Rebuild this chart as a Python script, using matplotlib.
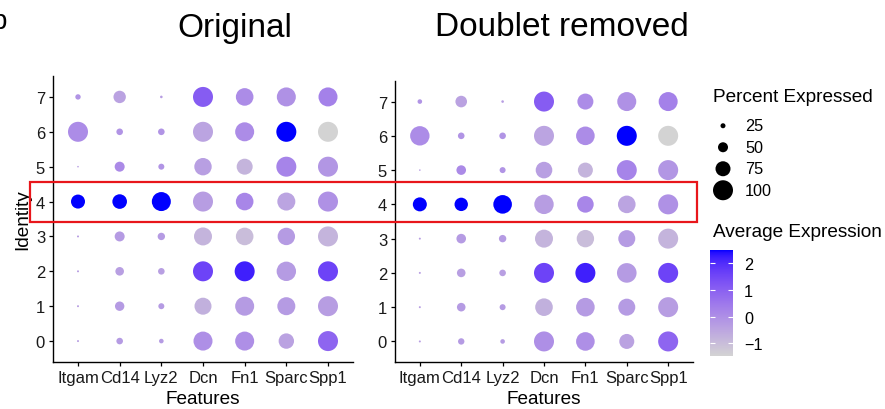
import numpy as np
import matplotlib
matplotlib.use("Agg")
import matplotlib.pyplot as plt
from matplotlib import font_manager as fm
from matplotlib.colors import ListedColormap, Normalize
from matplotlib.cm import ScalarMappable
from matplotlib.patches import Rectangle

# ---------------- data ----------------
features = ["Itgam", "Cd14", "Lyz2", "Dcn", "Fn1", "Sparc", "Spp1"]
identities = ["0", "1", "2", "3", "4", "5", "6", "7"]

# percent expressed, rows = identity 0..7, cols = features
pct_original = [
    [10, 33, 23, 95, 95, 77, 100],
    [10, 47, 30, 85, 95, 90, 100],
    [10, 43, 33, 100, 100, 97, 100],
    [10, 50, 37, 90, 88, 87, 100],
    [70, 73, 95, 100, 88, 90, 100],
    [8, 50, 30, 87, 80, 100, 100],
    [100, 33, 33, 100, 95, 100, 100],
    [27, 62, 13, 100, 88, 95, 95],
]
pct_removed = [
    [10, 32, 23, 100, 93, 75, 100],
    [10, 43, 30, 88, 93, 85, 100],
    [10, 43, 33, 100, 100, 98, 100],
    [10, 48, 37, 90, 87, 85, 100],
    [70, 67, 93, 97, 83, 88, 100],
    [8, 48, 30, 83, 75, 100, 100],
    [97, 33, 33, 100, 93, 100, 100],
    [23, 58, 13, 100, 80, 95, 95],
]

# average expression (scaled), rows = identity 0..7
avg_original = [
    [-0.3, -0.25, -0.25, 0.0, 0.0, -0.4, 0.9],
    [-0.3, -0.25, -0.25, -0.7, -0.25, -0.25, -0.3],
    [-0.3, -0.35, -0.35, 1.6, 2.2, -0.25, 1.6],
    [-0.3, -0.25, -0.25, -0.8, -1.0, -0.25, -0.8],
    [2.5, 2.5, 2.5, -0.3, 0.2, -0.45, -0.05],
    [-0.3, 0.1, -0.1, -0.35, -0.8, 0.25, -0.15],
    [0.05, -0.1, -0.1, -0.45, 0.05, 2.5, -1.47],
    [-0.1, -0.4, -0.3, 1.1, 0.05, -0.05, 0.3],
]
avg_removed = [
    [-0.3, -0.25, -0.25, 0.0, 0.0, -0.4, 0.9],
    [-0.3, -0.25, -0.25, -0.7, -0.25, -0.25, -0.3],
    [-0.3, -0.35, -0.35, 1.6, 2.2, -0.25, 1.6],
    [-0.3, -0.25, -0.25, -0.8, -1.0, -0.25, -0.8],
    [2.5, 2.5, 2.5, -0.3, 0.2, -0.45, -0.05],
    [-0.3, 0.1, -0.1, -0.35, -0.8, 0.25, -0.15],
    [0.05, -0.1, -0.1, -0.45, 0.05, 2.5, -1.47],
    [-0.1, -0.4, -0.3, 1.1, 0.05, -0.05, 0.3],
]

legend_pcts = [25, 50, 75, 100]
colorbar_ticks = [-1, 0, 1, 2]
panel_titles = ["Original", "Doublet removed"]

# ---------------- style ----------------
plt.rcParams["font.family"] = ["Liberation Sans", "DejaVu Sans"]

# Lab-interpolated gradient lightgrey -> blue (like ggplot2)
def _srgb_to_lab(rgb):
    rgb = np.asarray(rgb, float)
    lin = np.where(rgb <= 0.04045, rgb / 12.92, ((rgb + 0.055) / 1.055) ** 2.4)
    M = np.array([[0.4124564, 0.3575761, 0.1804375],
                  [0.2126729, 0.7151522, 0.0721750],
                  [0.0193339, 0.1191920, 0.9503041]])
    xyz = M @ lin / np.array([0.95047, 1.0, 1.08883])
    d = 6 / 29
    f = np.where(xyz > d ** 3, np.cbrt(xyz), xyz / (3 * d * d) + 4 / 29)
    return np.array([116 * f[1] - 16, 500 * (f[0] - f[1]), 200 * (f[1] - f[2])])

def _lab_to_srgb(lab):
    L, a, b = lab
    fy_ = (L + 16) / 116
    fx_ = fy_ + a / 500
    fz_ = fy_ - b / 200
    d = 6 / 29
    f = np.array([fx_, fy_, fz_])
    xyz = np.where(f > d, f ** 3, 3 * d * d * (f - 4 / 29)) * np.array([0.95047, 1.0, 1.08883])
    Minv = np.array([[3.2404542, -1.5371385, -0.4985314],
                     [-0.9692660, 1.8760108, 0.0415560],
                     [0.0556434, -0.2040259, 1.0572252]])
    lin = np.clip(Minv @ xyz, 0, 1)
    rgb = np.where(lin <= 0.0031308, 12.92 * lin, 1.055 * lin ** (1 / 2.4) - 0.055)
    return np.clip(rgb, 0, 1)

lab_lo = _srgb_to_lab([211 / 255, 211 / 255, 211 / 255])
lab_hi = _srgb_to_lab([0, 0, 1])
cmap = ListedColormap([_lab_to_srgb(lab_lo + t * (lab_hi - lab_lo)) for t in np.linspace(0, 1, 256)])

all_avg = np.array(avg_original + avg_removed)
norm = Normalize(vmin=all_avg.min(), vmax=all_avg.max())

W, H = 885, 410
fig = plt.figure(figsize=(W / 100, H / 100), dpi=100)

def fx(px):
    return px / W

def fy(py):
    return 1 - py / H

def diam_pt(p):
    return 0.2 * np.asarray(p, float) * 0.72

ax1 = fig.add_axes([fx(53), fy(363), (353 - 53) / W, (363 - 77) / H])
ax2 = fig.add_axes([fx(395), fy(363), (693 - 395) / W, (363 - 82) / H])

for ax, pct, avg in [(ax1, pct_original, avg_original), (ax2, pct_removed, avg_removed)]:
    pct = np.array(pct, float)
    avg = np.array(avg, float)
    X, Y = np.meshgrid(np.arange(len(features)), np.arange(len(identities)))
    ax.scatter(X.ravel(), Y.ravel(), s=diam_pt(pct.ravel()) ** 2, c=avg.ravel(),
               cmap=cmap, norm=norm, linewidths=0, zorder=3)
    ax.set_xlim(-0.6, len(features) - 0.4)
    ax.set_ylim(-0.6, len(identities) - 0.4)
    ax.set_xticks(range(len(features)))
    ax.set_xticklabels(features)
    ax.set_yticks(range(len(identities)))
    ax.set_yticklabels(identities)
    for s in ["top", "right"]:
        ax.spines[s].set_visible(False)
    for s in ["left", "bottom"]:
        ax.spines[s].set_linewidth(1.0)
        ax.spines[s].set_color("black")
    ax.tick_params(length=3.2, width=0.9, color="black", labelsize=12, pad=2.5, labelcolor="#1a1a1a")
    ax.set_xlabel("Features", fontsize=13.7, labelpad=3.5)

ax1.set_ylabel("Identity", fontsize=13.7, labelpad=3)

# panel titles
fig.text(fx(235), fy(28), panel_titles[0], ha="center", va="center", fontsize=24)
fig.text(fx(562), fy(28), panel_titles[1], ha="center", va="center", fontsize=24)
fig.text(fx(-9), fy(22), "b", ha="left", va="center", fontsize=20)

# size legend
fig.text(fx(713), fy(98), "Percent Expressed", ha="left", va="center", fontsize=13.7)
lax = fig.add_axes([fx(705), fy(202), 70 / W, 86 / H])
lax.set_xlim(0, 70)
lax.set_ylim(len(legend_pcts) - 0.5, -0.5)
lax.axis("off")
lax.scatter([18] * len(legend_pcts), range(len(legend_pcts)), s=diam_pt(legend_pcts) ** 2,
            c="black", linewidths=0, clip_on=False)
for i, p in enumerate(legend_pcts):
    lax.text(40, i, str(p), ha="left", va="center", fontsize=11.7)

# colour legend
fig.text(fx(713), fy(233), "Average Expression", ha="left", va="center", fontsize=13.7)
cax = fig.add_axes([fx(710), fy(357), 23 / W, 106 / H])
sm = ScalarMappable(norm=norm, cmap=cmap)
cb = fig.colorbar(sm, cax=cax, ticks=colorbar_ticks)
cb.outline.set_visible(False)
cb.minorticks_off()
cax.tick_params(axis="y", direction="in", length=3.3, width=0.8, color="white",
                labelcolor="black", left=True, right=True, labelsize=11.7, pad=8)

# red highlight box around identity 4
y_lo = ax1.transData.transform((0, 4 - 0.575))[1] / H
y_hi = ax1.transData.transform((0, 4 + 0.575))[1] / H
rect = Rectangle((fx(30), y_lo), fx(697) - fx(30), y_hi - y_lo, transform=fig.transFigure,
                 fill=False, edgecolor="#E8161B", linewidth=1.6, zorder=10)
fig.patches.append(rect)

fig.savefig("out.png", dpi=100)
